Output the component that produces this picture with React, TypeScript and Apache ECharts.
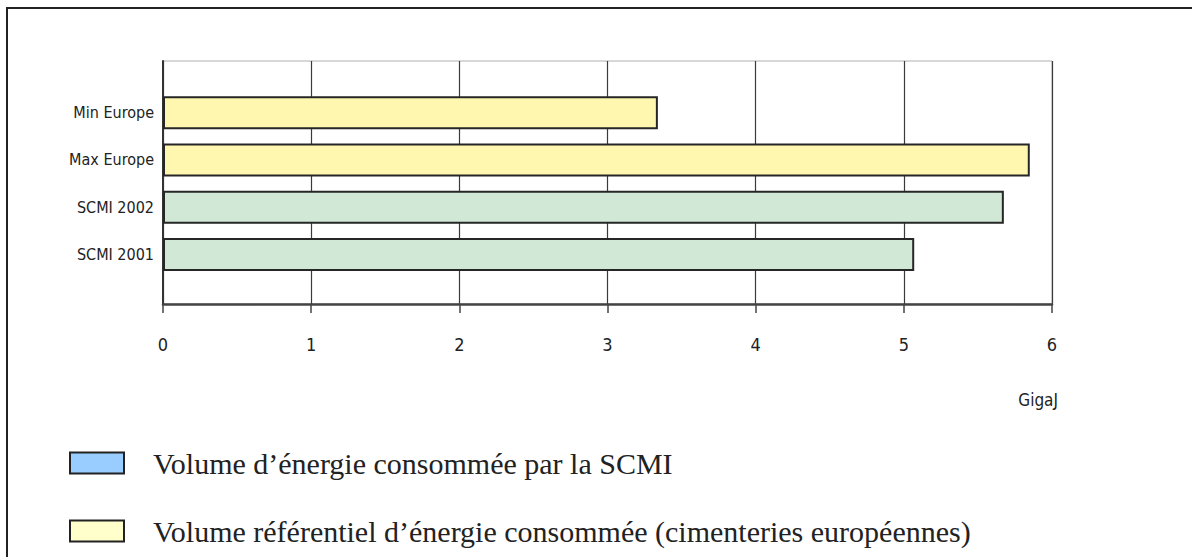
import React, { useEffect, useRef } from "react";
import * as echarts from "echarts";

const categories = ["Min Europe", "Max Europe", "SCMI 2002", "SCMI 2001"];
const scmiValues = [null, null, 5.675, 5.07];
const europeValues = [3.34, 5.85, null, null];
const xTicks = [0, 6, 1]; // min, max, interval
const seriesNames = [
  "Volume d’énergie consommée par la SCMI",
  "Volume référentiel d’énergie consommée (cimenteries européennes)",
];
const legendColors = ["#99ccff", "#ffffcc"];
const unitLabel = "GigaJ";

const NARROW = '"DejaVu Sans Condensed", "DejaVu Sans", sans-serif';
const SERIF = '"Liberation Serif", "Times New Roman", serif';

function legendFor(i: number, top: number) {
  return {
    orient: "vertical",
    left: 69,
    top,
    padding: 0,
    itemWidth: 54,
    itemHeight: 21,
    icon: "rect",
    selectedMode: false,
    textStyle: { fontFamily: SERIF, fontSize: 30, lineHeight: 30, color: "#222", padding: [0, 0, 0, 24] },
    data: [{ name: seriesNames[i], itemStyle: { color: legendColors[i], borderColor: "#222", borderWidth: 2 } }],
  };
}

export default function App() {
  const ref = useRef<HTMLDivElement>(null);
  useEffect(() => {
    if (!ref.current) return;
    const chart = echarts.init(ref.current, null, { renderer: "svg" });
    const option: any = {
      animation: false,
      backgroundColor: "#ffffff",
      grid: [
        { left: 163, top: 61, right: 140, height: 243, show: true, borderColor: "#b0b0b0", borderWidth: 1, backgroundColor: "transparent" },
        { left: 163, top: 89, right: 140, height: 189 },
      ],
      xAxis: [
        {
          gridIndex: 0,
          type: "value",
          min: xTicks[0],
          max: xTicks[1],
          interval: xTicks[2],
          axisLine: { show: true, lineStyle: { color: "#444", width: 2.5 } },
          axisTick: { show: true, length: 9, lineStyle: { color: "#444", width: 1.5 } },
          splitLine: { show: true, lineStyle: { color: "#3a3a3a", width: 1.2 } },
          axisLabel: { margin: 31, fontFamily: NARROW, fontSize: 18, color: "#222" },
        },
        {
          gridIndex: 1,
          type: "value",
          min: xTicks[0],
          max: xTicks[1],
          interval: xTicks[2],
          show: false,
        },
      ],
      yAxis: [
        {
          gridIndex: 0,
          type: "value",
          min: 0,
          max: 1,
          axisLine: { show: true, lineStyle: { color: "#333", width: 2 } },
          axisTick: { show: false },
          axisLabel: { show: false },
          splitLine: { show: false },
        },
        {
          gridIndex: 1,
          type: "category",
          data: categories,
          inverse: true,
          axisLine: { show: false },
          axisTick: { show: false },
          splitLine: { show: false },
          axisLabel: { margin: 9, fontFamily: NARROW, fontSize: 16, color: "#222" },
        },
      ],
      legend: [legendFor(0, 448), legendFor(1, 516)],
      series: [
        {
          name: seriesNames[0],
          type: "bar",
          xAxisIndex: 1,
          yAxisIndex: 1,
          data: scmiValues,
          barWidth: 33,
          barGap: "-100%",
          itemStyle: { color: "#d1e8d6", borderColor: "#262626", borderWidth: 2 },
        },
        {
          name: seriesNames[1],
          type: "bar",
          xAxisIndex: 1,
          yAxisIndex: 1,
          data: europeValues,
          barWidth: 33,
          barGap: "-100%",
          itemStyle: { color: "#fff7b0", borderColor: "#262626", borderWidth: 2 },
        },
      ],
      graphic: [
        {
          type: "rect",
          shape: { x: 7, y: 8, width: 1400, height: 800 },
          style: { fill: "none", stroke: "#222", lineWidth: 2 },
          silent: true,
        },
        {
          type: "text",
          x: 1058,
          y: 400,
          style: { text: unitLabel, fontFamily: NARROW, fontSize: 17, fill: "#222", align: "right", verticalAlign: "middle" },
        },
      ],
    };
    chart.setOption(option);
    return () => chart.dispose();
  }, []);
  return (
    <>
      <style>{`svg text { font-stretch: condensed !important; }`}</style>
      <div
        ref={ref}
        style={{ position: "fixed", left: 0, top: 0, width: 1192, height: 557, background: "#fff" }}
      />
    </>
  );
}
